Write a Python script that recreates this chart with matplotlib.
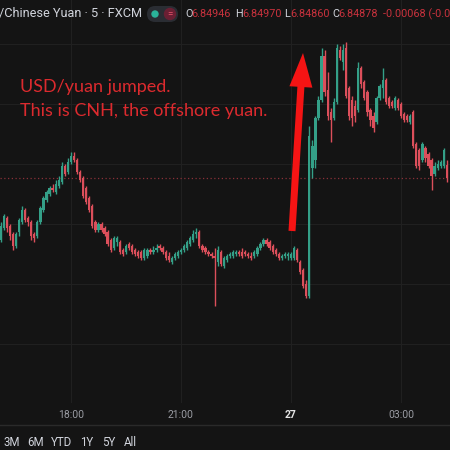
import matplotlib
matplotlib.use("Agg")
import matplotlib.pyplot as plt
from matplotlib.patches import FancyBboxPatch, FancyArrowPatch, Circle, ArrowStyle
import numpy as np

# ---------------- data (5-minute USD/CNH candles) ----------------
opens = [
    6.8457, 6.8463, 6.8468, 6.8464, 6.8460, 6.8454, 6.8461, 6.8466, 6.8472, 6.8468,
    6.8466, 6.8460, 6.8459, 6.8466, 6.8472, 6.8477, 6.8480, 6.8483, 6.8481, 6.8484,
    6.8486, 6.8494, 6.8491, 6.8496, 6.8499, 6.8497, 6.8491, 6.8488, 6.8483, 6.8478,
    6.8474, 6.8466, 6.8462, 6.8465, 6.8463, 6.8461, 6.8457, 6.8453, 6.8456, 6.8456,
    6.8452, 6.8451, 6.8455, 6.8454, 6.8452, 6.8451, 6.8451, 6.8448, 6.8449, 6.8452,
    6.8451, 6.8452, 6.8454, 6.8453, 6.8451, 6.8449, 6.8446, 6.8448, 6.8449, 6.8451,
    6.8452, 6.8453, 6.8455, 6.8457, 6.8460, 6.8461, 6.8454, 6.8453, 6.8451, 6.8450,
    6.8449, 6.8446, 6.8451, 6.8444, 6.8447, 6.8449, 6.8449, 6.8450, 6.8451, 6.8451,
    6.8451, 6.8450, 6.8449, 6.8449, 6.8450, 6.8453, 6.8455, 6.8457, 6.8456, 6.8454,
    6.8452, 6.8450, 6.8448, 6.8449, 6.8449, 6.8448, 6.8448, 6.8452, 6.8446, 6.8442,
    6.8435, 6.8429, 6.8493, 6.8497, 6.8518, 6.8527, 6.8549, 6.8532, 6.8521, 6.8518,
    6.8526, 6.8552, 6.8546, 6.8553, 6.8533, 6.8527, 6.8524, 6.8522, 6.8543, 6.8536,
    6.8531, 6.8522, 6.8519, 6.8516, 6.8528, 6.8533, 6.8537, 6.8528, 6.8526, 6.8523,
    6.8527, 6.8525, 6.8520, 6.8519, 6.8516, 6.8521, 6.8505, 6.8502, 6.8497, 6.8503,
    6.8500, 6.8497, 6.8490, 6.8493, 6.8494, 6.8494, 6.84946,
]
highs = [
    6.8466, 6.8470, 6.8469, 6.8465, 6.8461, 6.8461, 6.8468, 6.8474, 6.8473, 6.8469,
    6.8467, 6.8461, 6.8467, 6.8474, 6.8479, 6.8482, 6.8484, 6.8485, 6.8487, 6.8489,
    6.8496, 6.8495, 6.8498, 6.8501, 6.8501, 6.8498, 6.8492, 6.8489, 6.8484, 6.8479,
    6.8475, 6.8467, 6.8466, 6.8466, 6.8464, 6.8462, 6.8458, 6.8459, 6.8459, 6.8457,
    6.8453, 6.8455, 6.8456, 6.8455, 6.8453, 6.8452, 6.8452, 6.8453, 6.8453, 6.8453,
    6.8454, 6.8455, 6.8455, 6.8454, 6.8452, 6.8451, 6.8449, 6.8451, 6.8452, 6.8453,
    6.8455, 6.8457, 6.8459, 6.8462, 6.8463, 6.8462, 6.8455, 6.8454, 6.8452, 6.8451,
    6.8453, 6.8454, 6.8452, 6.8449, 6.8450, 6.8451, 6.8452, 6.8452, 6.8452, 6.8453,
    6.8452, 6.8451, 6.8451, 6.8452, 6.8454, 6.8456, 6.8458, 6.8458, 6.8457, 6.8455,
    6.8453, 6.8451, 6.8450, 6.8451, 6.8451, 6.8451, 6.8454, 6.8453, 6.8447, 6.8443,
    6.8437, 6.8514, 6.8507, 6.8519, 6.8529, 6.8553, 6.8552, 6.8541, 6.8523, 6.8528,
    6.8555, 6.8554, 6.8555, 6.8556, 6.8534, 6.8529, 6.8527, 6.8546, 6.8544, 6.8537,
    6.8532, 6.8523, 6.8521, 6.8529, 6.8535, 6.8543, 6.8538, 6.8529, 6.8527, 6.8529,
    6.8528, 6.8526, 6.8521, 6.8520, 6.8520, 6.8522, 6.8506, 6.8503, 6.8506, 6.8504,
    6.8501, 6.8498, 6.8496, 6.8497, 6.8497, 6.8503, 6.84970,
]
lows = [
    6.8456, 6.8462, 6.8461, 6.8457, 6.8452, 6.8453, 6.8459, 6.8465, 6.8466, 6.8464,
    6.8457, 6.8456, 6.8458, 6.8465, 6.8471, 6.8476, 6.8479, 6.8481, 6.8480, 6.8483,
    6.8485, 6.8489, 6.8490, 6.8495, 6.8496, 6.8490, 6.8486, 6.8478, 6.8475, 6.8471,
    6.8463, 6.8461, 6.8461, 6.8461, 6.8459, 6.8454, 6.8451, 6.8452, 6.8454, 6.8450,
    6.8449, 6.8450, 6.8452, 6.8450, 6.8449, 6.8448, 6.8447, 6.8447, 6.8448, 6.8450,
    6.8450, 6.8451, 6.8452, 6.8450, 6.8447, 6.8446, 6.8445, 6.8447, 6.8448, 6.8450,
    6.8451, 6.8452, 6.8454, 6.8456, 6.8458, 6.8453, 6.8451, 6.8450, 6.8449, 6.8448,
    6.8424, 6.8444, 6.8444, 6.8443, 6.8446, 6.8448, 6.8448, 6.8449, 6.8449, 6.8448,
    6.8449, 6.8448, 6.8447, 6.8448, 6.8449, 6.8452, 6.8454, 6.8454, 6.8452, 6.8450,
    6.8449, 6.8447, 6.8447, 6.8448, 6.8447, 6.8447, 6.8447, 6.8446, 6.8440, 6.8433,
    6.8428, 6.8428, 6.8488, 6.8493, 6.8517, 6.8526, 6.8529, 6.8517, 6.8506, 6.8517,
    6.8525, 6.8547, 6.8542, 6.8528, 6.8517, 6.8514, 6.8516, 6.8521, 6.8533, 6.8527,
    6.8519, 6.8514, 6.8511, 6.8515, 6.8527, 6.8528, 6.8525, 6.8523, 6.8523, 6.8522,
    6.8522, 6.8518, 6.8516, 6.8516, 6.8515, 6.8503, 6.8493, 6.8492, 6.8496, 6.8496,
    6.8493, 6.8482, 6.8489, 6.8492, 6.8493, 6.8493, 6.84860,
]
closes = [
    6.8464, 6.8469, 6.8463, 6.8459, 6.8454, 6.8460, 6.8467, 6.8472, 6.8467, 6.8466,
    6.8459, 6.8458, 6.8466, 6.8473, 6.8478, 6.8481, 6.8483, 6.8482, 6.8485, 6.8487,
    6.8494, 6.8490, 6.8496, 6.8499, 6.8497, 6.8491, 6.8487, 6.8479, 6.8476, 6.8472,
    6.8464, 6.8462, 6.8465, 6.8462, 6.8460, 6.8455, 6.8452, 6.8458, 6.8458, 6.8451,
    6.8450, 6.8454, 6.8453, 6.8451, 6.8450, 6.8449, 6.8448, 6.8452, 6.8452, 6.8451,
    6.8452, 6.8453, 6.8453, 6.8451, 6.8448, 6.8447, 6.8448, 6.8450, 6.8451, 6.8452,
    6.8454, 6.8456, 6.8458, 6.8460, 6.8461, 6.8454, 6.8452, 6.8451, 6.8450, 6.8449,
    6.8448, 6.8452, 6.8445, 6.8448, 6.8449, 6.8450, 6.8451, 6.8451, 6.8450, 6.8449,
    6.8450, 6.8449, 6.8448, 6.8451, 6.8453, 6.8455, 6.8457, 6.8455, 6.8453, 6.8451,
    6.8450, 6.8448, 6.8449, 6.8450, 6.8450, 6.8450, 6.8453, 6.8447, 6.8441, 6.8434,
    6.8429, 6.8509, 6.8504, 6.8518, 6.8527, 6.8549, 6.8531, 6.8519, 6.8517, 6.8526,
    6.8553, 6.8548, 6.8552, 6.8529, 6.8519, 6.8518, 6.8519, 6.8543, 6.8535, 6.8528,
    6.8521, 6.8517, 6.8513, 6.8528, 6.8534, 6.8537, 6.8526, 6.8524, 6.8524, 6.8528,
    6.8523, 6.8519, 6.8517, 6.8517, 6.8519, 6.8504, 6.8494, 6.8494, 6.8505, 6.8498,
    6.8494, 6.8489, 6.8494, 6.8495, 6.8496, 6.8502, 6.84878,
]

time_ticks = [23, 59, 95, 131]            # candle index of each time label
time_labels = ["18:00", "21:00", "27", "03:00"]
grid_prices = [6.8405, 6.8435, 6.8465, 6.8495, 6.8525, 6.8555]
last_close = 6.84878

header_title = "/Chinese Yuan \u00b7 5 \u00b7 FXCM"
ohlc_letters = ["O", "H", "L", "C"]
ohlc_values = ["6.84946", "6.84970", "6.84860", "6.84878"]
change_text = "-0.00068 (-0.0"
range_buttons = ["3M", "6M", "YTD", "1Y", "5Y", "All"]
annotation_lines = ["USD/yuan jumped.", "This is CNH, the offshore yuan."]

# ---------------- style ----------------
BG = "#141414"
GRID = "#202020"
GREEN = "#34a088"
RED = "#dc4f5b"
TEXT = "#d1d4dc"
DIM = "#9a9ca3"
ANNOT = "#dc2a2e"
ARROW = "#f51414"

W = H = 450
fig = plt.figure(figsize=(4.5, 4.5), dpi=100, facecolor=BG)


def fx(x):
    return x / W


def fy(y):
    return 1 - y / H


chart_bottom_px = 403
ax = fig.add_axes([0, fy(chart_bottom_px), 1, chart_bottom_px / H])
ax.set_facecolor(BG)
for s in ax.spines.values():
    s.set_visible(False)

o = np.array(opens)
h = np.array(highs)
l = np.array(lows)
c = np.array(closes)
idx = np.arange(len(o))
cols = np.where(c >= o, GREEN, RED)

ax.vlines(idx, l, h, colors=cols, lw=1.0, zorder=3)
body_lo = np.minimum(o, c)
body_h = np.maximum(np.abs(c - o), 0.00003)
ax.bar(idx, body_h, bottom=body_lo, width=0.75, color=cols, linewidth=0, zorder=4)

ax.set_xlim(-0.22, 147.03)
ax.set_ylim(6.8577 - chart_bottom_px * 0.00005, 6.8577)

ax.set_yticks(grid_prices)
ax.set_yticklabels([])
ax.tick_params(axis="y", length=0)
ax.set_xticks(time_ticks)
ax.set_xticklabels(time_labels)
ax.tick_params(axis="x", length=0, pad=5, labelsize=7.5, labelcolor=DIM)
for lab in ax.get_xticklabels():
    lab.set_fontfamily("Roboto")
    if lab.get_text() == "27":
        lab.set_color("#e6e6e6")
        lab.set_fontweight("bold")
ax.grid(True, color=GRID, lw=0.8, zorder=0)
ax.axhline(last_close, color="#8a3038", lw=0.9, ls=(0, (1, 2)), zorder=2)

# annotation text
ax.text(fx(20), fy(92), annotation_lines[0], transform=fig.transFigure,
        color=ANNOT, fontsize=13, family="Lato", va="baseline", ha="left", zorder=6)
ax.text(fx(20), fy(116), annotation_lines[1], transform=fig.transFigure,
        color=ANNOT, fontsize=13, family="Lato", va="baseline", ha="left", zorder=6)

# red arrow
arrow = FancyArrowPatch((fx(292), fy(231)), (fx(303), fy(53)), transform=fig.transFigure,
                        arrowstyle=ArrowStyle("Simple", head_length=34, head_width=23, tail_width=7),
                        mutation_scale=72 / 100, color=ARROW, lw=0, shrinkA=0, shrinkB=0, zorder=7)
fig.add_artist(arrow)

# header
fig.text(fx(-1), fy(14), header_title, color=TEXT, fontsize=9.2, family="Roboto",
         va="center", ha="left")
pill = FancyBboxPatch((fx(147), fy(22)), fx(31), 16 / H, boxstyle="round,pad=0,rounding_size=0.018",
                      transform=fig.transFigure, facecolor="#2a2d33", edgecolor="none")
fig.add_artist(pill)
fig.add_artist(Circle((fx(155), fy(14)), 3 / W, transform=fig.transFigure, color="#2ab39a"))
fig.add_artist(Circle((fx(170), fy(14)), 5.5 / W, transform=fig.transFigure, color="#6a1f33"))
fig.text(fx(170), fy(14.5), "=", color="#e0506a", fontsize=7, family="Roboto", va="center", ha="center")

letter_x = [185, 235, 284, 332]
value_x = [191, 242, 290, 338]
for xl, xv, let, val in zip(letter_x, value_x, ohlc_letters, ohlc_values):
    fig.text(fx(xl), fy(14), let, color=TEXT, fontsize=7.8, family="Roboto", va="center", ha="left")
    fig.text(fx(xv), fy(14), val, color="#c8323d", fontsize=7.8,
             family="Roboto", va="center", ha="left")
fig.text(fx(383), fy(14), change_text, color="#c8323d", fontsize=7.8, family="Roboto",
         va="center", ha="left")

# bottom separator and range buttons
fig.add_artist(plt.Line2D([0, 1], [fy(425), fy(425)], transform=fig.transFigure, color="#2a2a2a", lw=1))
btn_x = [3, 27, 51, 80, 102, 124]
for xp, b in zip(btn_x, range_buttons):
    fig.text(fx(xp), fy(442), b, color=TEXT, fontsize=8.3, family="Roboto", va="center", ha="left")

fig.savefig("out.png", dpi=100, facecolor=BG)
